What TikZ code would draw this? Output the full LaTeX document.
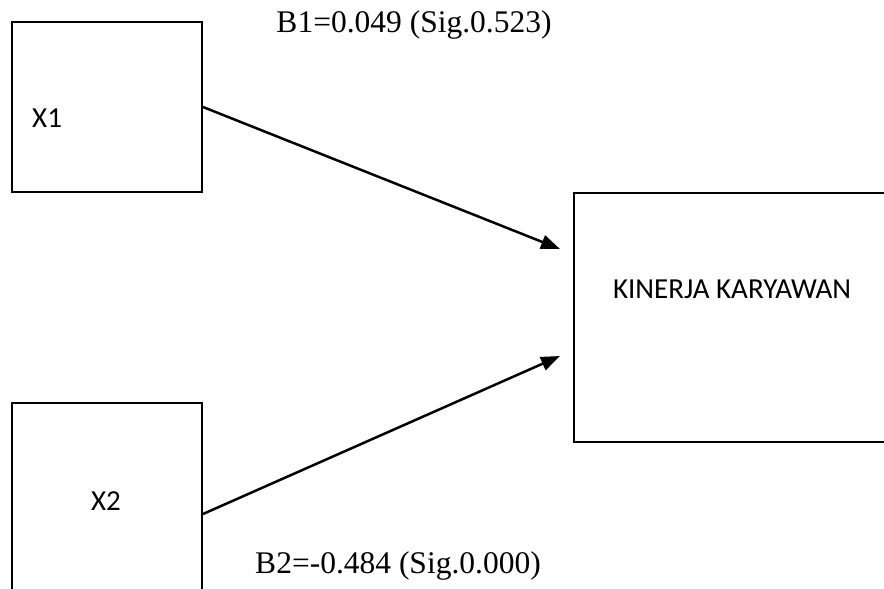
\documentclass[tikz,border=0pt]{standalone}
\usepackage{fontspec}
\setmainfont{Liberation Serif}
\newfontfamily\calibrifont{Carlito}
\usetikzlibrary{arrows.meta}
\begin{document}
\begin{tikzpicture}[x=1pt,y=-1pt,
  boxnode/.style={draw=black,line width=2pt,rectangle,inner sep=0pt,anchor=north west},
  boxtext/.style={font=\calibrifont\fontsize{29}{34}\selectfont,inner sep=0pt},
  coeftext/.style={font=\fontsize{31.5}{36}\selectfont,inner sep=0pt},
  arrowline/.style={line width=2.5pt,-{Triangle[length=19pt,width=14pt]}}]
\useasboundingbox (0,0) rectangle (884,589);
\clip (0,0) rectangle (884,589);
\node[boxnode,minimum width=190pt,minimum height=170pt] (x1) at (11,21) {};
\node[boxnode,minimum width=190pt,minimum height=222pt] (x2) at (11,402) {};
\node[boxnode,minimum width=340pt,minimum height=249pt] (ky) at (573,192) {};
\node[boxtext,anchor=west] (x1t) at (32,118) {X1};
\node[boxtext] (x2t) at (106,501) {X2};
\node[boxtext] (kyt) at (732,289) {KINERJA KARYAWAN};
\node[coeftext] (b1) at (414,25) {B1=0.049 (Sig.0.523)};
\node[coeftext] (b2) at (398,566) {B2=-0.484 (Sig.0.000)};
\coordinate (t1) at (560,249);
\coordinate (t2) at (560,356);
\draw[arrowline] (x1.east) -- (t1);
\draw[arrowline] (x2.east) -- (t2);
\end{tikzpicture}
\end{document}
